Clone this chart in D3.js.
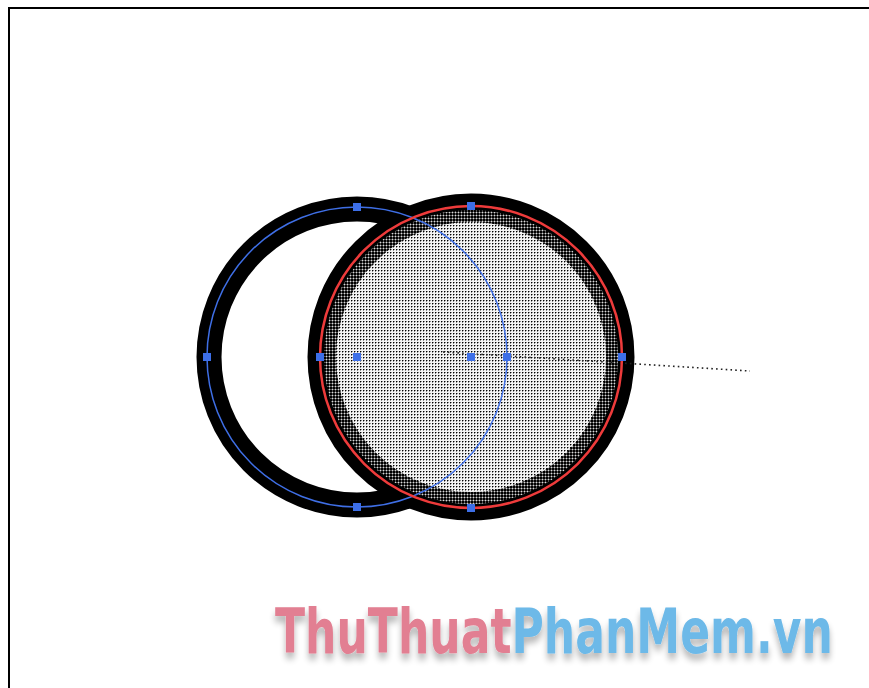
<!DOCTYPE html>
<html><head><meta charset="utf-8">
<script src="https://cdn.jsdelivr.net/npm/d3@7/dist/d3.min.js"></script>
<style>html,body{margin:0;padding:0;background:#fff;overflow:hidden}</style>
</head><body>
<script>
// ---- data (drawing units: 1 unit = 1 px, origin at the left circle's centre) ----
const shapeNames   = ["left", "right"];
const centerX      = [0, 114];
const centerY      = [0, 0];
const pathRadius   = [150, 151];          // selected paths (blue / red)
const ringRadius   = [148, 155];          // black stroked rings
const ringWidth    = [25, 17];
const denseRadius  = [0, 141];            // dark dotted band inside the right ring
const anchorAngles = [0, 90, 180, 270];   // anchor points on each path
const guideStart   = [86, 5];
const guideEnd     = [393, -14];
const watermarkWords = ["ThuThuat", "PhanMem.vn"];

const W = 869, H = 688;
const x = d3.scaleLinear().domain([0, 100]).range([357, 457]);
const y = d3.scaleLinear().domain([0, 100]).range([357, 257]);
const r = d3.scaleLinear().domain([0, 100]).range([0, 100]);

const svg = d3.select("body").append("svg").attr("width", W).attr("height", H);
const defs = svg.append("defs");

// light dot screen
const pl = defs.append("pattern").attr("id", "light").attr("patternUnits", "userSpaceOnUse")
  .attr("width", 3).attr("height", 3);
pl.append("rect").attr("width", 3).attr("height", 3).attr("fill", "#f4f4f4");
pl.append("rect").attr("width", 1).attr("height", 1).attr("fill", "#000");
pl.append("rect").attr("x", 1).attr("width", 1).attr("height", 1).attr("fill", "#8c8c8c");
pl.append("rect").attr("y", 1).attr("width", 1).attr("height", 1).attr("fill", "#8c8c8c");
// dense dot screen
const pd = defs.append("pattern").attr("id", "dense").attr("patternUnits", "userSpaceOnUse")
  .attr("width", 3).attr("height", 3);
pd.append("rect").attr("width", 3).attr("height", 3).attr("fill", "#d8d8d8");
pd.append("rect").attr("width", 2).attr("height", 2).attr("fill", "#000");
pd.append("rect").attr("x", 2).attr("width", 1).attr("height", 2).attr("fill", "#555");
pd.append("rect").attr("y", 2).attr("width", 2).attr("height", 1).attr("fill", "#555");

// watermark shadow
const f = defs.append("filter").attr("id", "wm").attr("x", "-10%").attr("y", "-30%")
  .attr("width", "120%").attr("height", "180%");
f.append("feGaussianBlur").attr("in", "SourceAlpha").attr("stdDeviation", 3).attr("result", "b");
f.append("feOffset").attr("in", "b").attr("dx", 0).attr("dy", 5).attr("result", "o");
f.append("feComponentTransfer").attr("in", "o").attr("result", "s")
  .append("feFuncA").attr("type", "linear").attr("slope", 0.3);
const m = f.append("feMerge");
m.append("feMergeNode").attr("in", "s");
m.append("feMergeNode").attr("in", "SourceGraphic");

// frame
svg.append("rect").attr("x", 9).attr("y", 8).attr("width", W + 20).attr("height", H + 20)
  .attr("fill", "#fff").attr("stroke", "#000").attr("stroke-width", 2);

const idx = d3.range(shapeNames.length);

// left ring (white fill)
svg.append("circle")
  .attr("cx", x(centerX[0])).attr("cy", y(centerY[0])).attr("r", r(ringRadius[0]))
  .attr("fill", "#fff").attr("stroke", "#000").attr("stroke-width", ringWidth[0]);

// right ring with dotted fill
svg.append("circle")
  .attr("cx", x(centerX[1])).attr("cy", y(centerY[1])).attr("r", r(ringRadius[1]))
  .attr("fill", "url(#light)").attr("stroke", "#000").attr("stroke-width", ringWidth[1]);
svg.append("circle")
  .attr("cx", x(centerX[1])).attr("cy", y(centerY[1])).attr("r", r(denseRadius[1]))
  .attr("fill", "none").attr("stroke", "url(#dense)").attr("stroke-width", 12);

// guide line
svg.append("line")
  .attr("x1", x(guideStart[0])).attr("y1", y(guideStart[1]))
  .attr("x2", x(guideEnd[0])).attr("y2", y(guideEnd[1]))
  .attr("stroke", "#222").attr("stroke-width", 1.6).attr("stroke-dasharray", "1.6 3.2");

// selected paths
const pathColors = ["#3f6fe6", "#ee3b3b"];
svg.selectAll("circle.path").data(idx).join("circle").attr("class", "path")
  .attr("cx", i => x(centerX[i])).attr("cy", i => y(centerY[i])).attr("r", i => r(pathRadius[i]))
  .attr("fill", "none").attr("stroke", i => pathColors[i]).attr("stroke-width", i => i ? 2.5 : 1.5);

// anchor points
const anchors = [];
idx.forEach(i => {
  anchorAngles.forEach(a => {
    const t = a * Math.PI / 180;
    anchors.push({ u: centerX[i] + pathRadius[i] * Math.cos(t), v: centerY[i] + pathRadius[i] * Math.sin(t), s: i });
  });
  anchors.push({ u: centerX[i], v: centerY[i], s: i });
});
svg.selectAll("rect.anchor").data(anchors).join("rect").attr("class", "anchor")
  .attr("x", d => x(d.u) - 4).attr("y", d => y(d.v) - 4)
  .attr("width", 8).attr("height", 8).attr("fill", "#3d6fe8");

// watermark (one text, two coloured runs), font size fitted to the target width
const wmColors = ["#e27f92", "#6db9e8"];
const wmG = svg.append("g");
const wm = wmG.append("text").attr("x", 275).attr("y", 0).attr("filter", "url(#wm)")
  .attr("font-family", "'Liberation Sans Narrow','DejaVu Sans Condensed','Liberation Sans',sans-serif")
  .attr("font-weight", "bold").attr("font-size", 62);
watermarkWords.forEach((w, i) => {
  wm.append("tspan").attr("fill", wmColors[i]).text(w);
});
const natural = wm.node().getComputedTextLength();
const fs = Math.min(66, 62 * 558 / natural);
wm.attr("font-size", fs);
const sy = Math.max(1, 46 / (0.73 * fs));
wmG.attr("transform", `translate(0,653) scale(1,${sy})`);
</script>
</body></html>
